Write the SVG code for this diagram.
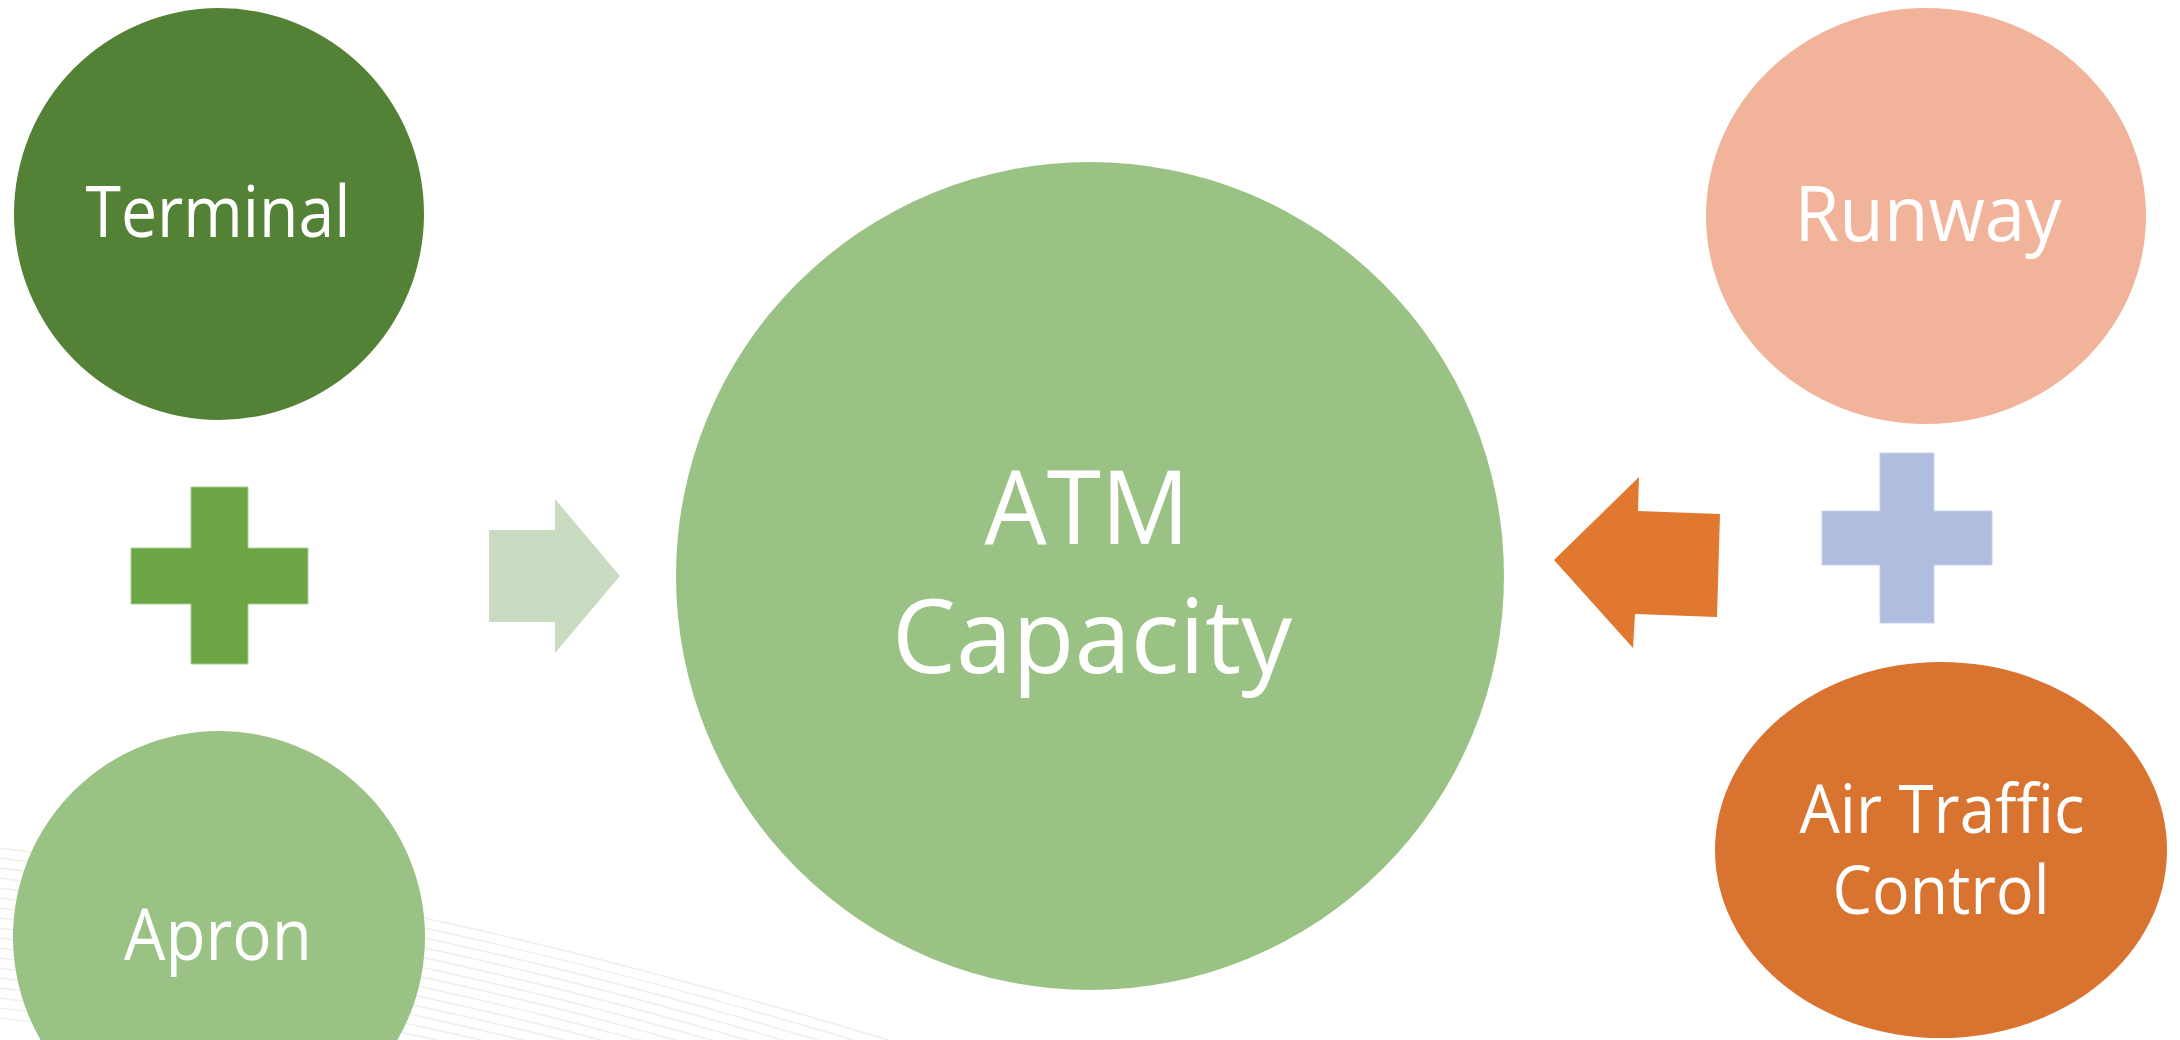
<svg xmlns="http://www.w3.org/2000/svg" width="2180" height="1040" viewBox="0 0 2180 1040">
  <defs>
    <style>
      .lbl { font-family: "Open Sans", "Liberation Sans", sans-serif; fill: #ffffff; text-anchor: middle; }
      .sm { font-size: 72px; }
      .big { font-size: 102px; }
      .wave { fill: none; stroke: #eeeeee; stroke-width: 1.4; }
    </style>
  </defs>
  <rect width="2180" height="1040" fill="#ffffff"/>

  <!-- decorative faint wave lines, bottom left -->
  <g id="background-waves">
    <path class="wave" d="M -20 846 C 300 880, 600 950, 960 1062"/>
    <path class="wave" d="M -20 856 C 300 890, 600 960, 944 1068"/>
    <path class="wave" d="M -20 866 C 300 900, 600 970, 928 1074"/>
    <path class="wave" d="M -20 876 C 300 910, 600 980, 912 1080"/>
    <path class="wave" d="M -20 886 C 300 920, 600 990, 896 1086"/>
    <path class="wave" d="M -20 896 C 300 930, 600 1000, 880 1092"/>
    <path class="wave" d="M -20 906 C 300 940, 600 1010, 864 1098"/>
    <path class="wave" d="M -20 916 C 300 950, 600 1020, 848 1104"/>
    <path class="wave" d="M -20 926 C 300 960, 600 1030, 832 1110"/>
    <path class="wave" d="M -20 936 C 300 970, 600 1040, 816 1116"/>
    <path class="wave" d="M -20 946 C 300 980, 600 1050, 800 1122"/>
    <path class="wave" d="M -20 956 C 300 990, 600 1060, 784 1128"/>
    <path class="wave" d="M -20 966 C 300 1000, 600 1070, 768 1134"/>
    <path class="wave" d="M -20 976 C 300 1010, 600 1080, 752 1140"/>
    <path class="wave" d="M -20 986 C 300 1020, 600 1090, 736 1146"/>
    <path class="wave" d="M -20 996 C 300 1030, 600 1100, 720 1152"/>
    <path class="wave" d="M -20 1006 C 300 1040, 600 1110, 704 1158"/>
    <path class="wave" d="M -20 1016 C 300 1050, 600 1120, 688 1164"/>
  </g>

  <!-- arrows pointing into the central node -->
  <g id="connectors">
    <polygon id="arrow-left" fill="#c9dcc1" points="489,530 555,530 555,499 620,576 555,653 555,622 489,622"/>
    <polygon id="arrow-right" fill="#e1782f" points="1554,560 1639,477 1638,511 1720,514 1717,617 1635,614 1633,648"/>
  </g>

  <g id="plus-left">
    <path fill="#6ba544" stroke="#a9cf94" stroke-width="1" d="M191 487 H248 V548 H308 V604 H248 V664 H191 V604 H131 V548 H191 Z"/>
  </g>
  <g id="plus-right">
    <path fill="#b0bddf" stroke="#c9d3ec" stroke-width="1" d="M1880 453 H1934 V511 H1992 V565 H1934 V623 H1880 V565 H1822 V511 H1880 Z"/>
  </g>

  <g id="node-terminal">
    <ellipse cx="219" cy="214" rx="205" ry="206" fill="#538135"/>
    <text class="lbl sm" x="218" y="237" textLength="265" lengthAdjust="spacingAndGlyphs">Terminal</text>
  </g>

  <g id="node-apron">
    <ellipse cx="219" cy="937" rx="206" ry="206" fill="#9bc285"/>
    <text class="lbl sm" x="218" y="960" textLength="188" lengthAdjust="spacingAndGlyphs">Apron</text>
  </g>

  <g id="node-atm">
    <circle cx="1090" cy="576" r="414" fill="#9bc285"/>
    <text class="lbl big" x="1087" y="544" textLength="205" lengthAdjust="spacingAndGlyphs">ATM</text>
    <text class="lbl big" x="1092" y="673" textLength="400" lengthAdjust="spacingAndGlyphs">Capacity</text>
  </g>

  <g id="node-runway">
    <ellipse cx="1926" cy="216" rx="220" ry="208" fill="#f2b39b"/>
    <text class="lbl" style="font-size:76px" x="1928" y="241" textLength="267" lengthAdjust="spacingAndGlyphs">Runway</text>
  </g>

  <g id="node-atc">
    <ellipse cx="1941" cy="850" rx="226" ry="188" fill="#d97330"/>
    <text class="lbl" style="font-size:68px" x="1942" y="833" textLength="285" lengthAdjust="spacingAndGlyphs">Air Traffic</text>
    <text class="lbl" style="font-size:68px" x="1941" y="914" textLength="217" lengthAdjust="spacingAndGlyphs">Control</text>
  </g>
</svg>
